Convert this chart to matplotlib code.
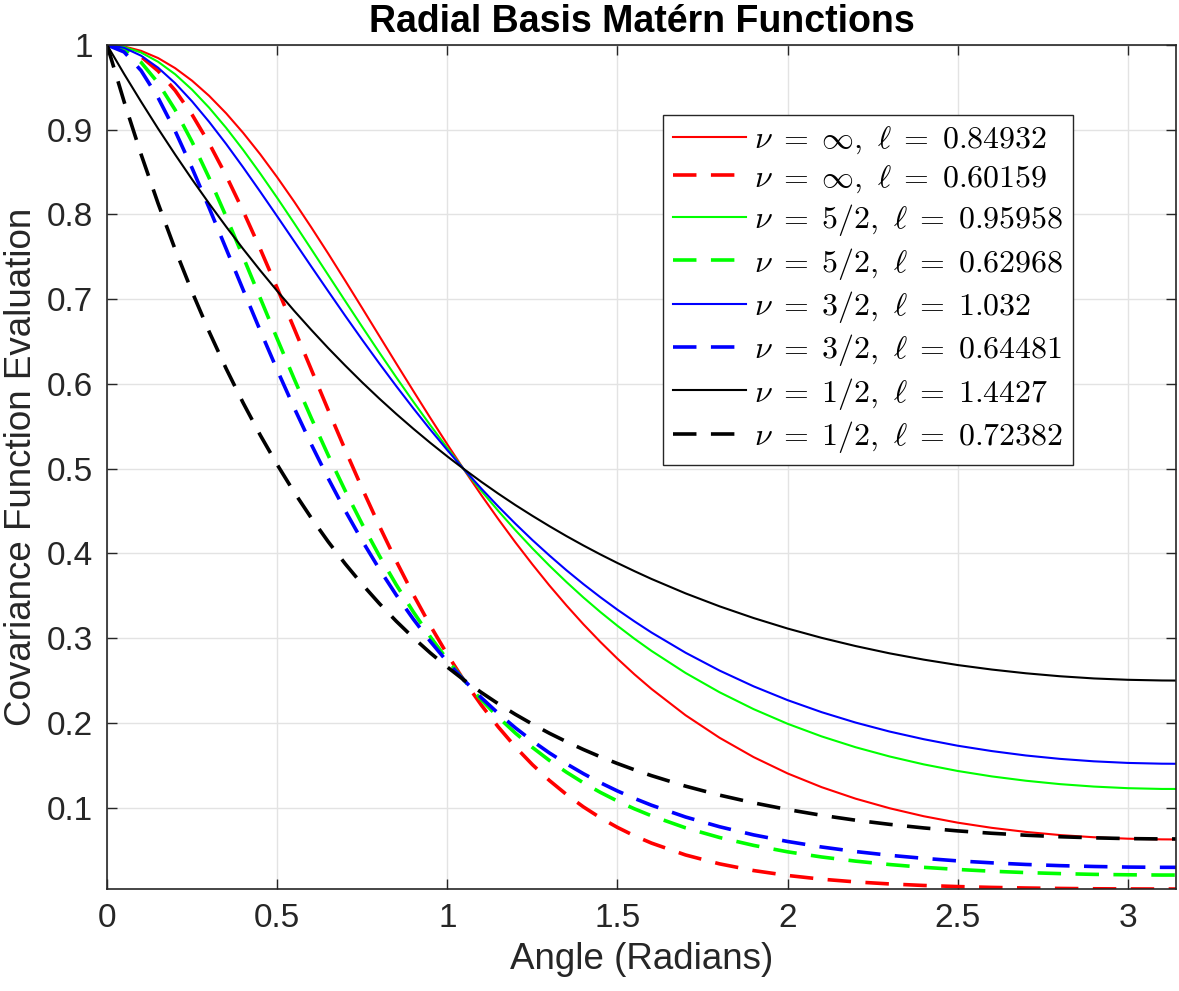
import matplotlib
matplotlib.use("Agg")
import matplotlib.pyplot as plt

plt.rcParams['font.family'] = ['Liberation Sans', 'DejaVu Sans']
plt.rcParams['mathtext.fontset'] = 'cm'

# angle grid (radians), last point = pi
angle = [0.0, 0.05, 0.1, 0.15, 0.2, 0.25, 0.3, 0.35, 0.4, 0.45, 0.5, 0.55, 0.6, 0.65, 0.7, 0.75,
         0.8, 0.85, 0.9, 0.95, 1.0, 1.05, 1.1, 1.15, 1.2, 1.25, 1.3, 1.35, 1.4, 1.45, 1.5, 1.55, 1.6,
         1.7, 1.8, 1.9, 2.0, 2.1, 2.2, 2.3, 2.4, 2.5, 2.6, 2.7, 2.8, 2.9, 3.0, 3.1, 3.14159]

# covariance evaluations, one list per curve
inf_a = [1.0, 0.9983, 0.9931, 0.9846, 0.9727, 0.9578, 0.9400, 0.9194, 0.8963, 0.8711, 0.8439,
         0.8151, 0.7849, 0.7538, 0.7218, 0.6894, 0.6567, 0.6241, 0.5918, 0.5599, 0.5287, 0.4983,
         0.4688, 0.4404, 0.4131, 0.3871, 0.3622, 0.3387, 0.3164, 0.2955, 0.2758, 0.2573, 0.2401,
         0.2091, 0.1825, 0.1597, 0.1404, 0.1242, 0.1106, 0.0993, 0.0899, 0.0823, 0.0762, 0.0714,
         0.0677, 0.0651, 0.0634, 0.0626, 0.0625]
inf_b = [1.0, 0.9966, 0.9863, 0.9694, 0.9464, 0.9177, 0.8839, 0.8458, 0.8040, 0.7595, 0.7130,
         0.6653, 0.6172, 0.5692, 0.5222, 0.4765, 0.4326, 0.3908, 0.3515, 0.3148, 0.2808, 0.2495,
         0.2210, 0.1951, 0.1717, 0.1508, 0.1321, 0.1156, 0.1009, 0.0880, 0.0767, 0.0668, 0.0582,
         0.0442, 0.0337, 0.0258, 0.0200, 0.0156, 0.0124, 0.0100, 0.0082, 0.0069, 0.0059, 0.0052,
         0.0047, 0.0043, 0.0041, 0.0040, 0.0040]
m52_a = [1.0, 0.9977, 0.9911, 0.9802, 0.9655, 0.9472, 0.9260, 0.9022, 0.8762, 0.8485, 0.8196,
         0.7897, 0.7592, 0.7285, 0.6978, 0.6673, 0.6372, 0.6078, 0.5791, 0.5513, 0.5244, 0.4986,
         0.4738, 0.4501, 0.4275, 0.4060, 0.3856, 0.3663, 0.3480, 0.3308, 0.3146, 0.2993, 0.2850,
         0.2590, 0.2362, 0.2163, 0.1990, 0.1841, 0.1713, 0.1604, 0.1511, 0.1433, 0.1369, 0.1318,
         0.1278, 0.1249, 0.1230, 0.1221, 0.1221]
m52_b = [1.0, 0.9948, 0.9795, 0.9553, 0.9235, 0.8856, 0.8431, 0.7975, 0.7499, 0.7015, 0.6533,
         0.6059, 0.5599, 0.5158, 0.4739, 0.4344, 0.3974, 0.3630, 0.3311, 0.3016, 0.2746, 0.2499,
         0.2273, 0.2067, 0.1880, 0.1711, 0.1557, 0.1419, 0.1293, 0.1180, 0.1078, 0.0986, 0.0904,
         0.0762, 0.0648, 0.0555, 0.0479, 0.0418, 0.0369, 0.0329, 0.0296, 0.0271, 0.0250, 0.0234,
         0.0222, 0.0213, 0.0208, 0.0205, 0.0205]
m32_a = [1.0, 0.9967, 0.9874, 0.9732, 0.9550, 0.9334, 0.9093, 0.8832, 0.8556, 0.8270, 0.7978,
         0.7683, 0.7387, 0.7094, 0.6804, 0.6520, 0.6243, 0.5974, 0.5713, 0.5461, 0.5219, 0.4987,
         0.4765, 0.4553, 0.4351, 0.4158, 0.3976, 0.3802, 0.3638, 0.3483, 0.3336, 0.3198, 0.3067,
         0.2829, 0.2618, 0.2432, 0.2269, 0.2127, 0.2004, 0.1898, 0.1808, 0.1731, 0.1668, 0.1616,
         0.1576, 0.1547, 0.1528, 0.1519, 0.1518]
m32_b = [1.0, 0.9918, 0.9698, 0.9378, 0.8986, 0.8546, 0.8078, 0.7595, 0.7110, 0.6631, 0.6165,
         0.5717, 0.5289, 0.4885, 0.4504, 0.4148, 0.3817, 0.3509, 0.3225, 0.2962, 0.2721, 0.2500,
         0.2297, 0.2112, 0.1942, 0.1787, 0.1646, 0.1518, 0.1401, 0.1294, 0.1197, 0.1109, 0.1029,
         0.0890, 0.0775, 0.0679, 0.0601, 0.0536, 0.0482, 0.0438, 0.0402, 0.0372, 0.0349, 0.0330,
         0.0316, 0.0306, 0.0299, 0.0296, 0.0296]
m12_a = [1.0, 0.9659, 0.9331, 0.9013, 0.8708, 0.8413, 0.8129, 0.7856, 0.7593, 0.7340, 0.7097,
         0.6863, 0.6639, 0.6423, 0.6217, 0.6018, 0.5828, 0.5646, 0.5472, 0.5305, 0.5145, 0.4992,
         0.4845, 0.4705, 0.4571, 0.4444, 0.4322, 0.4205, 0.4094, 0.3988, 0.3887, 0.3791, 0.3699,
         0.3529, 0.3376, 0.3238, 0.3114, 0.3004, 0.2907, 0.2821, 0.2747, 0.2683, 0.2630, 0.2586,
         0.2551, 0.2525, 0.2509, 0.2501, 0.2500]
m12_b = [1.0, 0.9333, 0.8710, 0.8130, 0.7589, 0.7086, 0.6617, 0.6181, 0.5776, 0.5398, 0.5048,
         0.4722, 0.4420, 0.4138, 0.3877, 0.3635, 0.3410, 0.3200, 0.3006, 0.2826, 0.2659, 0.2503,
         0.2359, 0.2225, 0.2101, 0.1986, 0.1878, 0.1779, 0.1686, 0.1600, 0.1521, 0.1447, 0.1378,
         0.1254, 0.1148, 0.1057, 0.0978, 0.0910, 0.0852, 0.0803, 0.0761, 0.0726, 0.0698, 0.0675,
         0.0657, 0.0644, 0.0635, 0.0631, 0.0631]

labels = [r'$\nu\;=\;\infty,\ \ell\;=\;0.84932$', r'$\nu\;=\;\infty,\ \ell\;=\;0.60159$',
          r'$\nu\;=\;5/2,\ \ell\;=\;0.95958$', r'$\nu\;=\;5/2,\ \ell\;=\;0.62968$',
          r'$\nu\;=\;3/2,\ \ell\;=\;1.032$', r'$\nu\;=\;3/2,\ \ell\;=\;0.64481$',
          r'$\nu\;=\;1/2,\ \ell\;=\;1.4427$', r'$\nu\;=\;1/2,\ \ell\;=\;0.72382$']

xticks = [0, 0.5, 1, 1.5, 2, 2.5, 3]
xtick_labels = ['0', '0.5', '1', '1.5', '2', '2.5', '3']
yticks = [0.1, 0.2, 0.3, 0.4, 0.5, 0.6, 0.7, 0.8, 0.9, 1.0]
ytick_labels = ['0.1', '0.2', '0.3', '0.4', '0.5', '0.6', '0.7', '0.8', '0.9', '1']

fig = plt.figure(figsize=(11.79, 9.91), dpi=100)
ax = fig.add_axes([0.0908, 0.1029, 0.9067, 0.8517])

series = [inf_a, inf_b, m52_a, m52_b, m32_a, m32_b, m12_a, m12_b]
colors = ['#ff0000', '#ff0000', '#00ff00', '#00ff00', '#0000ff', '#0000ff', '#000000', '#000000']
for i, (ys, c, lab) in enumerate(zip(series, colors, labels)):
    if i % 2 == 0:
        ax.plot(angle, ys, color=c, lw=1.5, label=lab)
    else:
        ax.plot(angle, ys, color=c, lw=2.6, dashes=(6.5, 4), label=lab)

ax.set_xlim(0, 3.14159)
ax.set_ylim(0.004, 1)
ax.set_xticks(xticks, xtick_labels)
ax.set_yticks(yticks, ytick_labels)
ax.tick_params(direction='in', length=7, width=1, top=True, right=True,
               labelsize=24, colors='#262626', pad=10)
ax.grid(True, color='#e3e3e3', lw=1)
ax.set_axisbelow(True)
for s in ax.spines.values():
    s.set_color('#262626')
    s.set_linewidth(1.2)

ax.set_xlabel('Angle (Radians)', fontsize=26.5, color='#262626', labelpad=5.5)
ax.set_ylabel('Covariance Function Evaluation', fontsize=26.5, color='#262626', labelpad=6)
ax.set_title('Radial Basis Matérn Functions', fontsize=27, fontweight='bold', pad=9)

leg = ax.legend(loc='upper left', bbox_to_anchor=(0.52, 0.917), fontsize=23,
                handlelength=2.3, handletextpad=0.25, labelspacing=0.23,
                borderpad=0.3, borderaxespad=0, fancybox=False, framealpha=1)
leg.get_frame().set_edgecolor('#262626')
leg.get_frame().set_linewidth(1.0)

plt.savefig('out.png')
